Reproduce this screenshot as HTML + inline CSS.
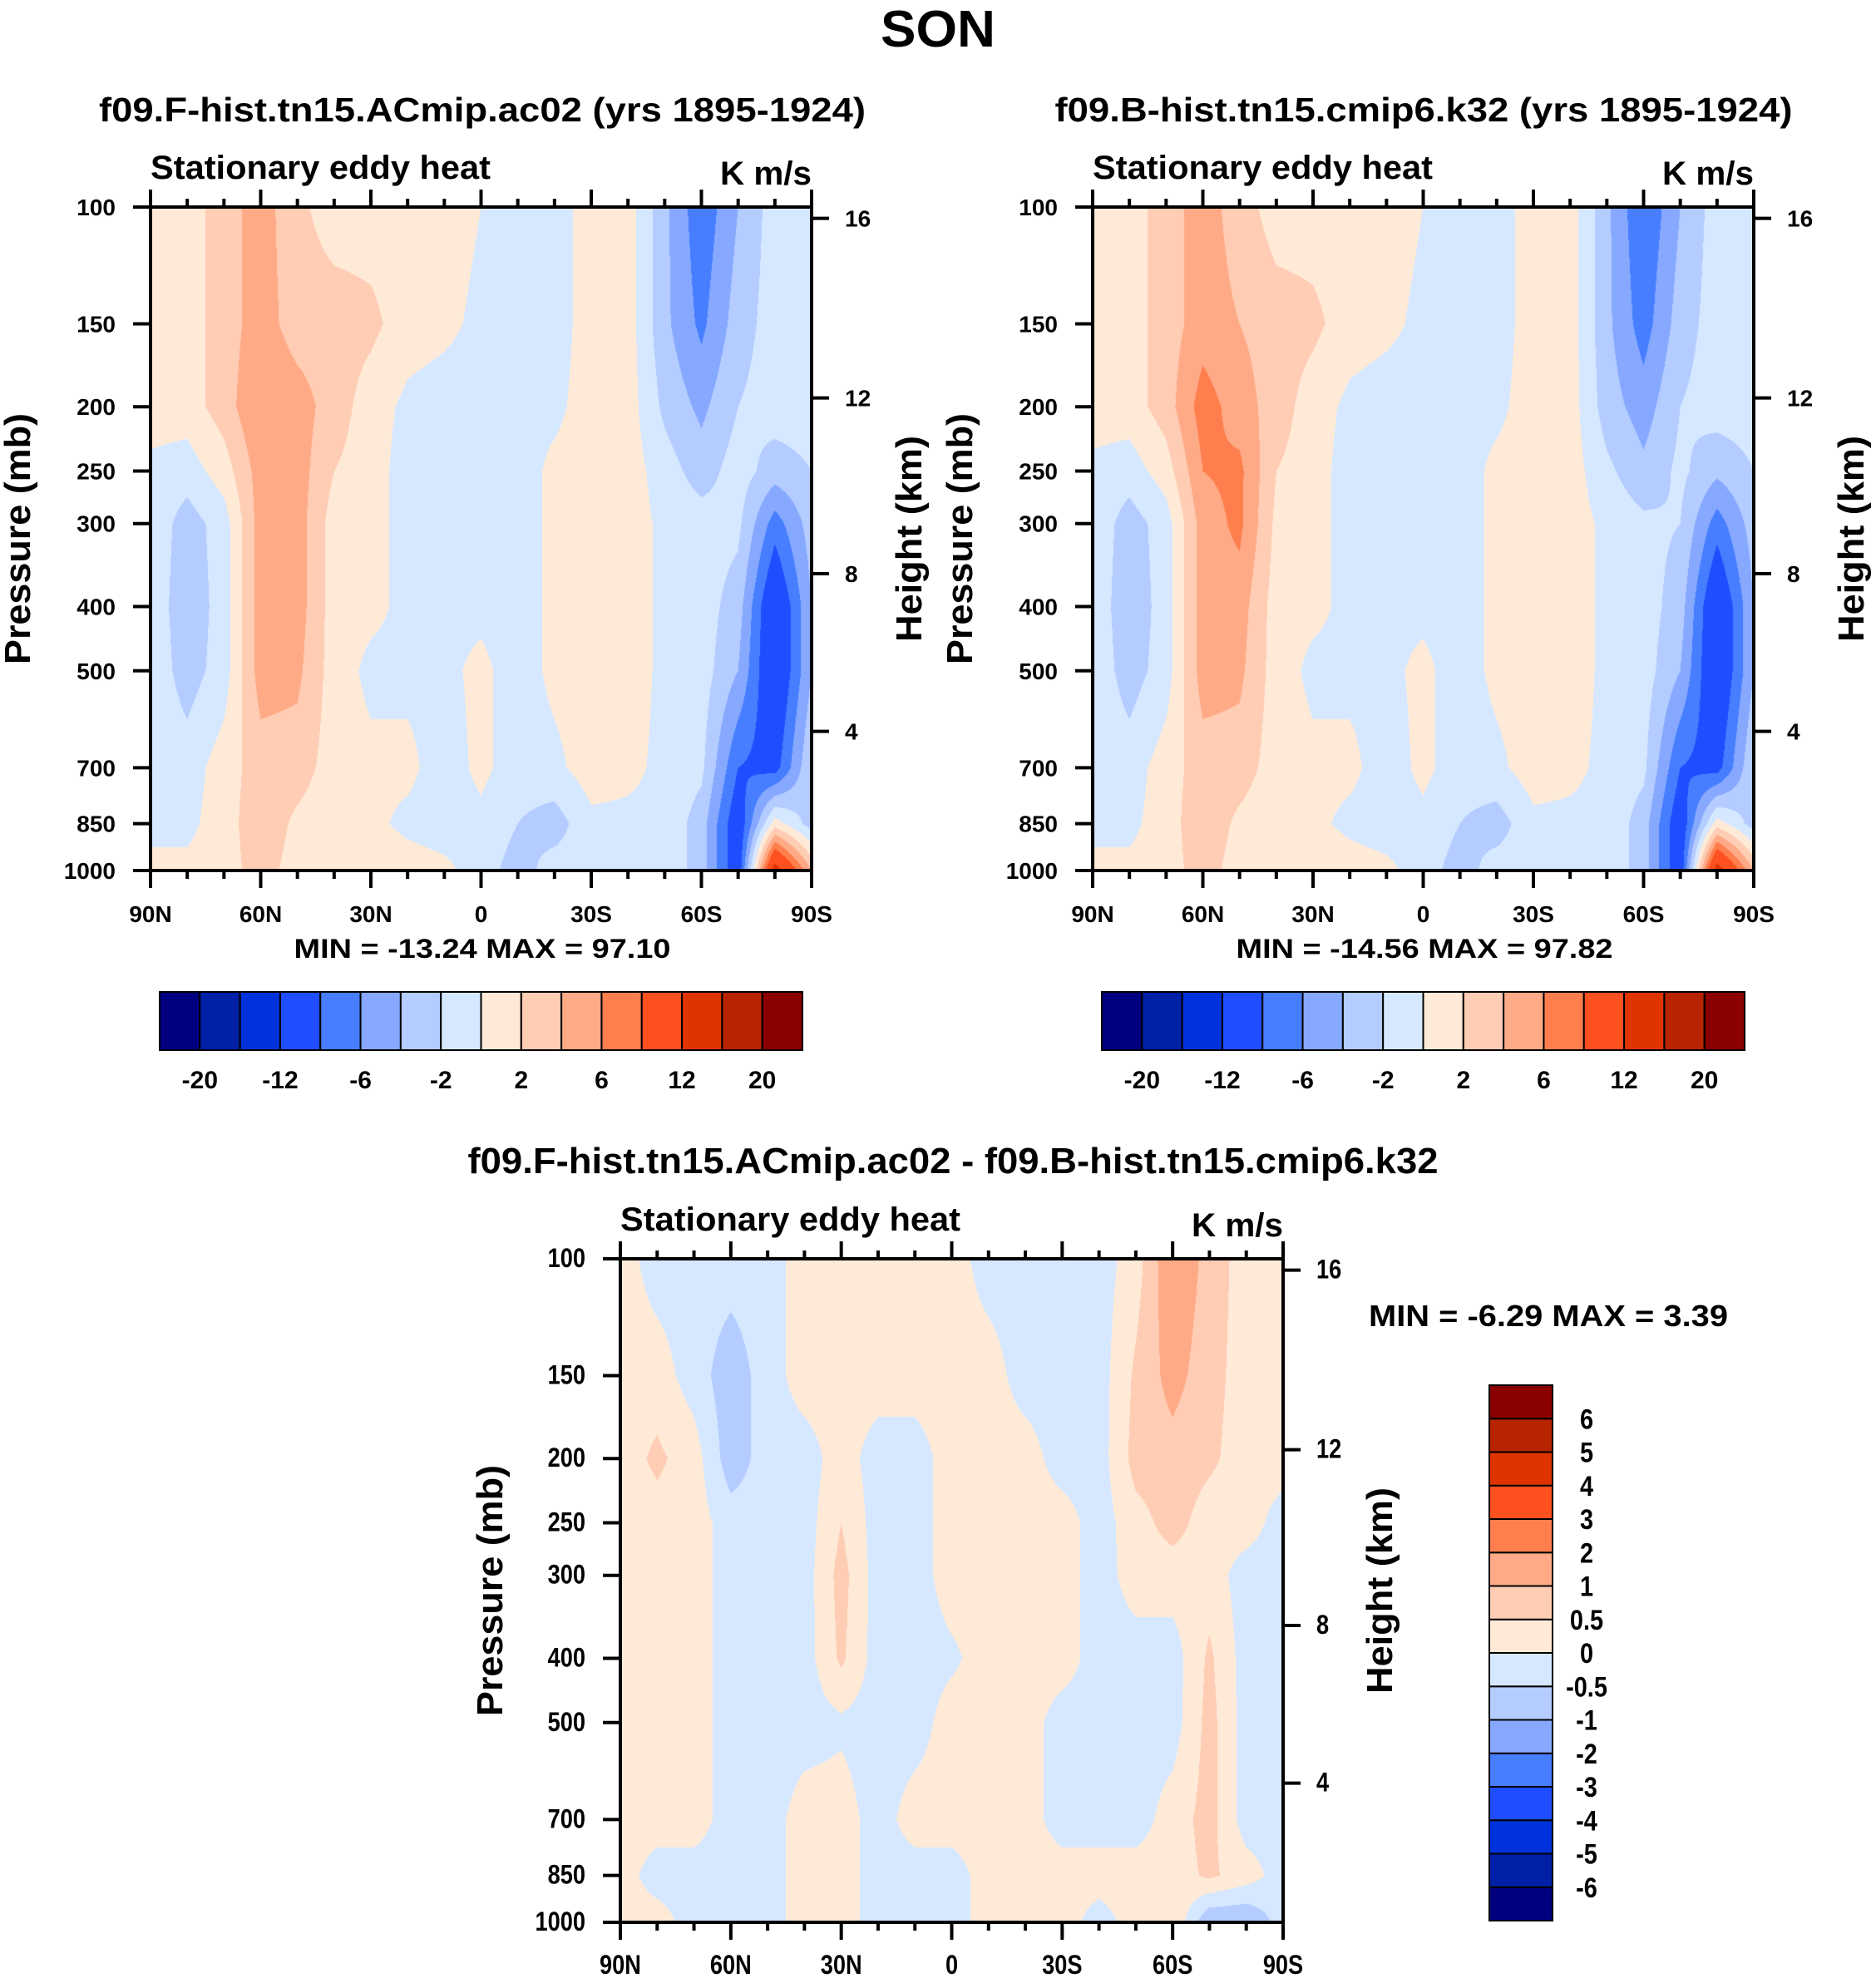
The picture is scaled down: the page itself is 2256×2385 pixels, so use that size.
<!DOCTYPE html>
<html><head><meta charset="utf-8">
<style>
html,body{margin:0;padding:0;background:#fff;}
#wrap{position:relative;width:2256px;height:2385px;overflow:hidden;background:#fff;}
canvas{position:absolute;}
svg{position:absolute;left:0;top:0;}
text{font-family:"Liberation Sans",sans-serif;font-weight:bold;fill:#000;}
</style></head>
<body>
<div id="wrap">
<canvas id="cF"></canvas>
<canvas id="cB"></canvas>
<canvas id="cD"></canvas>
<svg id="svg" width="2256" height="2385" xmlns="http://www.w3.org/2000/svg"></svg>
</div>
<script>
// ---- data ----
const lats = [90,80,70,60,50,40,30,20,10,0,-10,-20,-30,-40,-50,-60,-70,-80,-90];
const plevs = [100,150,200,250,300,400,500,700,850,1000];
const xTickLabels = ["90N","60N","30N","0","30S","60S","90S"];
const xTickLats = [90,60,30,0,-30,-60,-90];
const pTicks = [100,150,200,250,300,400,500,700,850,1000];
const hTickLabels = ["4","8","12","16"];
const hTickP = [617,357,194,104];
const levelsTop = [-20,-16,-12,-8,-6,-4,-2,0,2,4,6,8,12,16,20];
const levelsTopLabels = ["-20","-12","-6","-2","2","6","12","20"];
const levelsDiff = [-6,-5,-4,-3,-2,-1,-0.5,0,0.5,1,2,3,4,5,6];
const levelsDiffLabels = ["-6","-5","-4","-3","-2","-1","-0.5","0","0.5","1","2","3","4","5","6"];
const colors16 = ["#000080","#0020A8","#0032DC","#1E4EFF","#467EFF","#86A8FF","#B4CCFF","#D6E8FF","#FFEAD8","#FFCCB4","#FFAA86","#FF7E4E","#FF5020","#E03400","#B82400","#8B0000"];
// columns by latitude, values at plevs (100..1000)
const fieldF = [
 [1,1,1,-0.5,-0.5,-0.5,-0.5,-0.5,-0.5,0.5],
 [1,1,1,-1,-3,-3.5,-3,-1,-0.5,0.5],
 [3,3,3,1,-1,-1,-1,1,1,1],
 [5,5,6,5,5,5,5,3,3.5,3],
 [2.5,3,5,5,5,5,4.5,3,1.5,1],
 [1,3,3,2,1,1,1,1,0.5,0.5],
 [1,2.5,1,1,1,0.5,-0.5,0.5,0.5,1.5],
 [1,1,-0.5,-1,-1,-0.5,-0.5,0.5,-0.5,1],
 [1,0.5,-1,-1,-0.5,-0.5,-0.5,-1,-1,0.5],
 [0,-0.5,-1,-0.5,-0.5,-0.5,0.5,0.5,-0.5,-1],
 [-1,-1,-0.5,-1,-1,-1,-1,-1,-2,-3],
 [-1,-1,-0.5,0.5,0.5,0.5,0.5,-0.5,-3,-1],
 [1,1,1,1,1,1,1,1,-0.5,-1],
 [1,1,1,1,1,1,1,0.5,-0.5,-0.5],
 [-3.5,-3.5,-2.5,-1,-0.5,-0.5,-0.5,-0.5,-0.5,-0.5],
 [-7.5,-6.5,-4.5,-3,-1,-1,-1,-1.5,-3,-3],
 [-4,-3,-2,-1,-1.5,-3,-4,-8,-10,-10],
 [-1,-1,-1,-3,-7,-11,-11,-9,1,14],
 [-1,-1,-1,-2,-3,-4,-4,-2,-3,4]
];
const fieldB = [
 [1,1,1,-0.5,-0.5,-0.5,-0.5,-0.5,-0.5,0.5],
 [1,1,1,-1,-3,-3.5,-3,-1,-0.5,0.5],
 [3,3,3,1,-1,-1,-1,1,1,1],
 [5,5,7,6,5,5,5,3,3.5,3],
 [3,4,5,6.5,6.5,5,4.5,3,1.5,1],
 [1,3,3,2,1.5,1,1,1,0.5,0.5],
 [1,2.5,1,1,1,0.5,-0.5,0.5,0.5,1.5],
 [1,1,-0.5,-1,-1,-0.5,-0.5,0.5,-0.5,1],
 [1,0.5,-1,-1,-0.5,-0.5,-0.5,-1,-1,0.5],
 [0,-0.5,-1,-0.5,-0.5,-0.5,0.5,0.5,-0.5,-1],
 [-1,-1,-0.5,-1,-1,-1,-1,-1,-2,-3],
 [-1,-1,-0.5,0.5,0.5,0.5,0.5,-0.5,-3,-1],
 [1,1,1,1,1,1,1,1,-0.5,-1],
 [1,1,1,1,1,1,1,0.5,-0.5,-0.5],
 [-3.5,-3.5,-3,-1.5,-0.5,-0.5,-0.5,-0.5,-0.5,-0.5],
 [-8,-7,-5,-3.5,-1.5,-1,-1,-1.5,-3,-3],
 [-4,-3,-2,-1.5,-2,-3,-4,-8,-10,-10],
 [-1,-1,-1,-3.5,-7,-11,-11,-9,1,14],
 [-1,-1,-1,-2,-3,-4,-4,-2,-3,4]
];
const fieldD = [
 [0.25,0.25,0.25,0.25,0.25,0.25,0.25,0.25,0.25,0.25],
 [-0.25,0.25,0.6,0.3,0.25,0.1,0.25,0.25,-0.25,0.25],
 [-0.25,-0.25,0.25,0.25,0.25,0.25,0.25,0.25,-0.25,-0.25],
 [-0.25,-0.8,-0.8,-0.25,-0.25,-0.25,-0.25,-0.25,-0.25,-0.5],
 [-0.25,-0.25,-0.25,-0.25,-0.25,-0.25,-0.25,-0.25,-0.25,-0.25],
 [0.25,0.25,-0.25,-0.25,-0.25,-0.25,-0.25,0.25,0.25,0.25],
 [0.25,0.25,0.25,0.5,0.7,0.6,-0.1,0.25,0.25,0.25],
 [0.25,0.25,-0.25,-0.25,-0.25,-0.25,-0.25,-0.25,-0.25,-0.25],
 [0.25,0.25,-0.25,-0.25,-0.25,-0.25,-0.25,0.25,-0.25,-0.25],
 [0.25,0.25,0.25,0.25,0.25,-0.1,0.25,0.25,-0.25,-0.25],
 [-0.25,0.25,0.25,0.25,0.25,0.25,0.25,0.25,0.25,0.25],
 [-0.25,-0.25,0.25,0.25,0.25,0.25,0.25,0.25,0.25,0.25],
 [-0.25,-0.25,-0.25,0.25,0.25,0.25,-0.25,-0.25,0.25,0.25],
 [-0.25,-0.25,-0.25,-0.25,-0.25,-0.25,-0.25,-0.25,0.25,-0.25],
 [0.25,0.6,0.7,0.3,0.25,-0.25,-0.25,-0.25,0.25,0.25],
 [1.5,1.2,0.8,0.7,0.25,-0.25,-0.25,0.25,0.25,0.5],
 [0.8,0.7,0.6,0.25,0.25,0.6,0.7,0.7,0.6,-1],
 [0.25,0.25,0.25,0.25,-0.25,-0.25,-0.25,-0.25,0.25,-1],
 [0.25,0.25,0.25,-0.25,-0.25,-0.25,-0.25,-0.25,-0.25,-0.25]
];

// ---- helpers ----
const NS = "http://www.w3.org/2000/svg";
const svg = document.getElementById("svg");
function mk(tag, attrs, parent){
  const e = document.createElementNS(NS, tag);
  for (const k in attrs) e.setAttribute(k, attrs[k]);
  (parent||svg).appendChild(e);
  return e;
}
function txt(x,y,s,size,anchor,sx,rot,parent,len){
  let tr = "translate("+x+","+y+")";
  if (rot) tr += " rotate("+rot+")";
  if (sx && sx!==1) tr += " scale("+sx+",1)";
  const a = {x:0,y:0,"font-size":size,"text-anchor":anchor||"start",transform:tr};
  if (len){ a.textLength=len; a.lengthAdjust="spacingAndGlyphs"; }
  const t = mk("text",a,parent);
  t.textContent = s;
  return t;
}
function binIndex(v, levels){ let k=0; for (let i=0;i<levels.length;i++){ if (v>=levels[i]) k=i+1; } return k; }
function hexRGB(h){ return [parseInt(h.substr(1,2),16),parseInt(h.substr(3,2),16),parseInt(h.substr(5,2),16)]; }
const rgb16 = colors16.map(hexRGB);

function drawField(id,bx,by,w,h,field,levels){
  const c = document.getElementById(id);
  c.width=w; c.height=h; c.style.left=bx+"px"; c.style.top=by+"px";
  const ctx=c.getContext("2d"); const img=ctx.createImageData(w,h); const d=img.data;
  const lnP = plevs.map(p=>Math.log(p));
  for (let j=0;j<h;j++){
    const p = 100*Math.pow(10,(j+0.5)/h);
    const lp = Math.log(p);
    let k=0; while(k<plevs.length-2 && lp>lnP[k+1]) k++;
    let t=(lp-lnP[k])/(lnP[k+1]-lnP[k]); t=Math.max(0,Math.min(1,t));
    for (let i=0;i<w;i++){
      const lat = 90-180*(i+0.5)/w;
      let fi=(90-lat)/10; let a=Math.min(17,Math.floor(fi)); let u=fi-a;
      const v0=field[a][k]*(1-t)+field[a][k+1]*t;
      const v1=field[a+1][k]*(1-t)+field[a+1][k+1]*t;
      const v=v0*(1-u)+v1*u;
      const col=rgb16[binIndex(v,levels)];
      const o=(j*w+i)*4; d[o]=col[0]; d[o+1]=col[1]; d[o+2]=col[2]; d[o+3]=255;
    }
  }
  ctx.putImageData(img,0,0);
}

function panel(cfg){
  const g = mk("g",{});
  
  
  const {bx,by,w,h,sx}=cfg;
  const X = lat=>bx+w*(90-lat)/180;
  const Y = p=>by+h*Math.log(p/100)/Math.LN10;
  drawField(cfg.canvas,bx,by,w,h,cfg.field,cfg.levels);
  const frame = mk("rect",{x:bx,y:by,width:w,height:h,fill:"none",stroke:"#000","stroke-width":4},g);
  
  
  for (let lat=90; lat>=-90; lat-=10){
    const major = lat%30===0;
    const L = major?21:10;
    mk("line",{x1:X(lat),x2:X(lat),y1:by,y2:by-L,stroke:"#000","stroke-width":4},g);
    mk("line",{x1:X(lat),x2:X(lat),y1:by+h,y2:by+h+L,stroke:"#000","stroke-width":4},g);
  }
  const fs = cfg.fs||28;
  const xl = mk("g",{},g);
  
  
  xTickLats.forEach((lat,i)=>{ txt(X(lat),by+h+62,xTickLabels[i],fs,"middle",sx,0,xl); });
  const yl = mk("g",{},g);
  
  
  pTicks.forEach(p=>{
    mk("line",{x1:bx-21,x2:bx,y1:Y(p),y2:Y(p),stroke:"#000","stroke-width":4},g);
    txt(bx-42,Y(p)+10,String(p),fs,"end",sx,0,yl);
  });
  const hl = mk("g",{},g);
  
  
  hTickP.forEach((p,i)=>{
    mk("line",{x1:bx+w,x2:bx+w+21,y1:Y(p),y2:Y(p),stroke:"#000","stroke-width":4},g);
    txt(bx+w+40,Y(p)+10,hTickLabels[i],fs,"start",sx,0,hl);
  });
  const t1=txt(bx,by-34,"Stationary eddy heat",40,"start",1,0,g,409);
   
  const t2=txt(bx+w,by-27,"K m/s",40,"end",1,0,g,110);
   
  const t3=txt(cfg.pLabelX,by+h/2,"Pressure (mb)",44,"middle",1,-90,g,302);
   
  const t4=txt(cfg.hLabelX,by+h/2,"Height (km)",44,"middle",1,-90,g,248);
   
}

function hColorbar(x0,y0,w,h,name){
  const g=mk("g",{});
  
  
  const bw=w/16;
  colors16.forEach((c,i)=>{
    const r=mk("rect",{x:x0+i*bw,y:y0,width:bw,height:h,fill:c,stroke:"#000","stroke-width":2},g);
     
  });
  levelsTopLabels.forEach((s,i)=>{ txt(x0+(2*i+1)*bw,y0+h+46,s,30,"middle",1,0,g); });
}
function vColorbar(x0,y0,w,h,name){
  const g=mk("g",{});
  
  
  const bh=h/16;
  colors16.forEach((c,i)=>{
    const r=mk("rect",{x:x0,y:y0+(15-i)*bh,width:w,height:bh,fill:c,stroke:"#000","stroke-width":2},g);
     
  });
  levelsDiffLabels.forEach((s,i)=>{ txt(x0+w+41,y0+(15-i)*bh+12,s,34,"middle",0.85,0,g); });
}

// ---- titles ----
let t;
t=txt(1128,56,"SON",62,"middle",1,0,svg,138);  
t=txt(580,146,"f09.F-hist.tn15.ACmip.ac02 (yrs 1895-1924)",41,"middle",1,0,svg,922);  
t=txt(1712,146,"f09.B-hist.tn15.cmip6.k32 (yrs 1895-1924)",41,"middle",1,0,svg,887);  
t=txt(1146,1411,"f09.F-hist.tn15.ACmip.ac02 - f09.B-hist.tn15.cmip6.k32",44,"middle",1,0,svg,1167);  

panel({name:"panel-f-hist",canvas:"cF",bx:181,by:249,w:795,h:798,sx:1,fs:28,field:fieldF,levels:levelsTop,pLabelX:36,hLabelX:1108});
panel({name:"panel-b-hist",canvas:"cB",bx:1314,by:249,w:795,h:798,sx:1,fs:28,field:fieldB,levels:levelsTop,pLabelX:1169,hLabelX:2241});
panel({name:"panel-difference",canvas:"cD",bx:746,by:1514,w:797,h:798,sx:0.85,fs:32,field:fieldD,levels:levelsDiff,pLabelX:604,hLabelX:1674});

t=txt(580,1152,"MIN = -13.24  MAX =  97.10",32,"middle",1,0,svg,453);  
t=txt(1713,1152,"MIN = -14.56  MAX =  97.82",32,"middle",1,0,svg,453);  
t=txt(1862,1595,"MIN =  -6.29  MAX =   3.39",36,"middle",1,0,svg,432);  

hColorbar(192,1193,773,70,"colorbar-left");
hColorbar(1325,1193,773,70,"colorbar-right");
vColorbar(1791,1666,76,644,"colorbar-difference");
</script>
</body></html>
